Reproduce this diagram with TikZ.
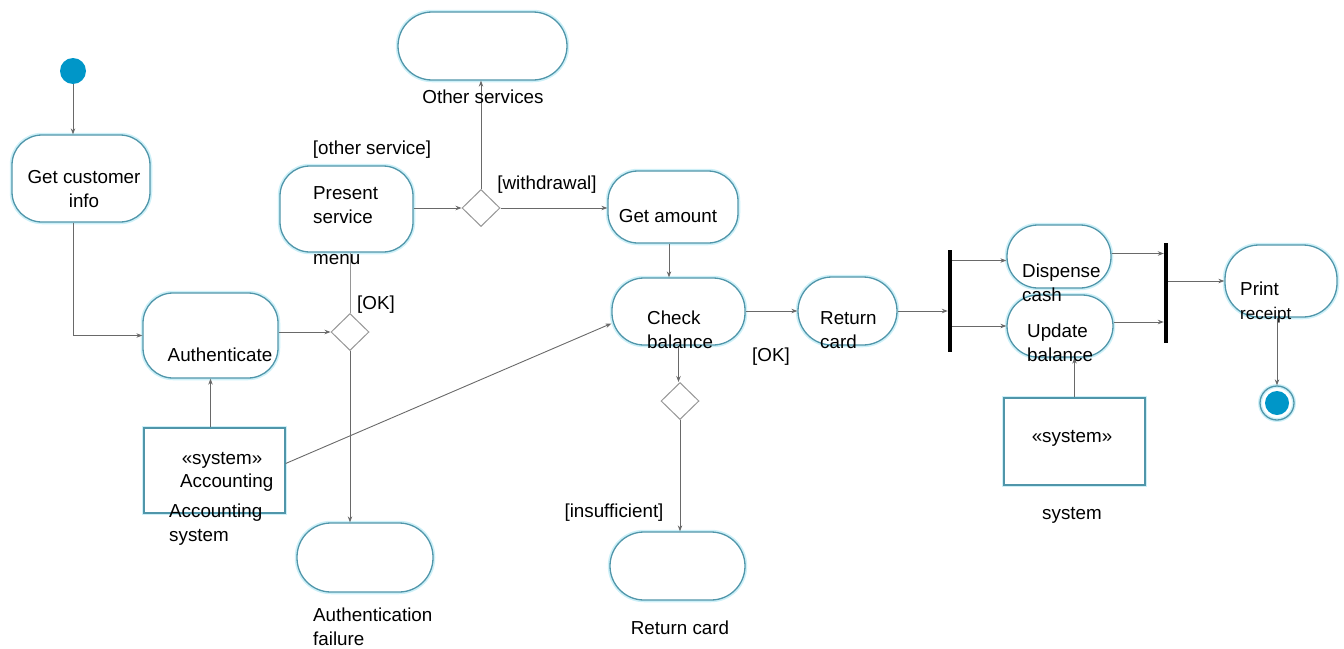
\documentclass[tikz,border=0pt]{standalone}
\usepackage{fontspec}
\setmainfont{Liberation Sans}
\usetikzlibrary{arrows.meta,calc,shapes.geometric}
\definecolor{actc}{RGB}{80,150,170}
\definecolor{glow}{RGB}{205,240,248}
\definecolor{arr}{RGB}{105,105,105}
\definecolor{dia}{RGB}{150,150,150}
\definecolor{startc}{RGB}{0,150,200}
\begin{document}
\begin{tikzpicture}[x=1pt,y=-1pt,font=\fontsize{18.8}{24}\selectfont,
  act/.style={draw=actc,line width=1.3pt,preaction={draw=glow,line width=4.5pt},fill=white,inner sep=0pt},
  sysbox/.style={act,rectangle},
  dec/.style={diamond,draw=dia,line width=1pt,fill=white,minimum width=38pt,minimum height=37pt,inner sep=0pt},
  flow/.style={draw=arr,line width=0.9pt,-{Stealth[length=6pt,width=4.5pt]}},
  plain/.style={draw=arr!70,line width=0.9pt},
  bar/.style={fill=black,draw=none,minimum width=4pt,inner sep=0pt},
  lbl/.style={inner sep=0pt,align=left,anchor=west},
  clbl/.style={inner sep=0pt,align=center}]
\useasboundingbox (0,0) rectangle (1344,648);
% activities
\node[act,rounded corners=30pt,minimum width=138pt,minimum height=87pt] (gci) at (81,178.5) {};
\node[act,rounded corners=30pt,minimum width=135pt,minimum height=85pt] (auth) at (210.5,335.5) {};
\node[act,rounded corners=30pt,minimum width=133pt,minimum height=86pt] (ps) at (346.5,209) {};
\node[act,rounded corners=34pt,minimum width=169pt,minimum height=68pt] (os) at (482.5,46) {};
\node[act,rounded corners=30pt,minimum width=130pt,minimum height=72pt] (ga) at (673,207) {};
\node[act,rounded corners=32pt,minimum width=133pt,minimum height=67pt] (cb) at (678.5,311.5) {};
\node[act,rounded corners=34pt,minimum width=99pt,minimum height=68pt] (rc) at (847.5,311) {};
\node[act,rounded corners=34pt,minimum width=135pt,minimum height=68pt] (rc2) at (677.5,566) {};
\node[act,rounded corners=34pt,minimum width=136pt,minimum height=69pt] (af) at (365,557.5) {};
\node[act,rounded corners=31pt,minimum width=104pt,minimum height=63pt] (disp) at (1059,256.5) {};
\node[act,rounded corners=31pt,minimum width=106pt,minimum height=62pt] (upd) at (1060,326) {};
\node[act,rounded corners=34pt,minimum width=112pt,minimum height=72pt] (pr) at (1281,281) {};
\node[sysbox,minimum width=141pt,minimum height=85pt] (sysL) at (214.5,470.5) {};
\node[sysbox,minimum width=141pt,minimum height=87pt] (sysR) at (1074.5,441.5) {};
% decisions, bars, start/end
\node[dec] (d1) at (350,332) {};
\node[dec] (d2) at (481,208) {};
\node[dec] (d3) at (680,401) {};
\node[bar,minimum height=102pt] (bar1) at (950,301) {};
\node[bar,minimum height=100pt] (bar2) at (1166,293) {};
\node[circle,fill=startc,minimum size=26pt,inner sep=0pt] (start) at (73,71) {};
\node[circle,draw=actc,line width=1.3pt,preaction={draw=glow,line width=4pt},minimum size=34pt,inner sep=0pt] (end) at (1277,403) {};
\node[circle,fill=startc,minimum size=24pt,inner sep=0pt] (endin) at (end) {};
% connectors
\draw[flow] (start) -- (start |- gci.north);
\draw[flow] (start |- gci.south) |- (auth.west);
\draw[flow] (auth.east |- d1.west) -- (d1.west);
\draw[plain] (d1.north) -- (d1.north |- ps.south);
\draw[flow] (d1.south) -- (d1.south |- af.north);
\draw[flow] (ps.east |- d2.west) -- (d2.west);
\draw[flow] (d2.north) -- (d2.north |- os.south);
\draw[flow] (d2.east) -- (d2.east -| ga.west);
\draw[flow] ([xshift=-4pt]ga.south) -- ([xshift=-4pt]ga.south |- cb.north);
\draw[flow] (cb.east |- rc.west) -- (rc.west);
\draw[flow] (cb.south) -- (cb.south |- d3.north);
\draw[flow] (d3.south) -- (d3.south |- rc2.north);
\draw[flow] ([yshift=7pt]sysL.east) -- ([yshift=-12pt]cb.west);
\draw[flow] ([xshift=-4pt]sysL.north) -- ([xshift=-4pt]sysL.north |- auth.south);
\draw[flow] (rc.east) -- (rc.east -| bar1.west);
\draw[flow] ([yshift=-4pt]bar1.east |- disp.west) -- ([yshift=-4pt]disp.west);
\draw[flow] (bar1.east |- upd.west) -- (upd.west);
\draw[flow] ([yshift=3pt]disp.east) -- ([yshift=3pt]disp.east -| bar2.west);
\draw[flow] ([yshift=4pt]upd.east) -- ([yshift=4pt]upd.east -| bar2.west);
\draw[flow] (bar2.east |- pr.west) -- (pr.west);
\draw[flow] (end |- pr.south) -- (end.north);
\draw[flow] (sysR.north) -- (sysR.north |- upd.south);
% texts
\node[clbl] (tgci) at (84,189) {Get customer\\info};
\node[clbl] (tauth) at (220,355) {Authenticate};
\node[lbl] (tps) at (313,205) {Present\\service};
\node[lbl] (tmenu) at (313,260) {menu};
\node[clbl] (tok1) at (376,305) {[OK]};
\node[clbl] (tother) at (372,150) {[other service]};
\node[clbl] (tos) at (483,97) {Other services};
\node[clbl] (twd) at (547,185) {[withdrawal]};
\node[clbl] (tga) at (668,216) {Get amount};
\node[lbl] (tcb) at (647,330) {Check\\balance};
\node[lbl] (trc) at (820,330) {Return\\card};
\node[clbl] (tok2) at (771,357) {[OK]};
\node[clbl] (tins) at (614,513) {[insufficient]};
\node[clbl] (trc2) at (680,628) {Return card};
\node[lbl] (taf) at (313,627) {Authentication\\failure};
\node[clbl] (tsysL) at (222,460) {«system»};
\node[lbl] (tacc) at (180,483) {Accounting};
\node[lbl] (taccs) at (169,525) {Accounting\\system};
\node[lbl] (tdisp) at (1022,283) {Dispense\\cash};
\node[lbl] (tupd) at (1027,343) {Update\\balance};
\node[lbl] (tpr) at (1240,302) {Print\\{\fontsize{17}{24}\selectfont receipt}};
\node[clbl] (tsysR) at (1072,438) {«system»};
\node[clbl] (tsys) at (1072,515) {system};
\end{tikzpicture}
\end{document}
